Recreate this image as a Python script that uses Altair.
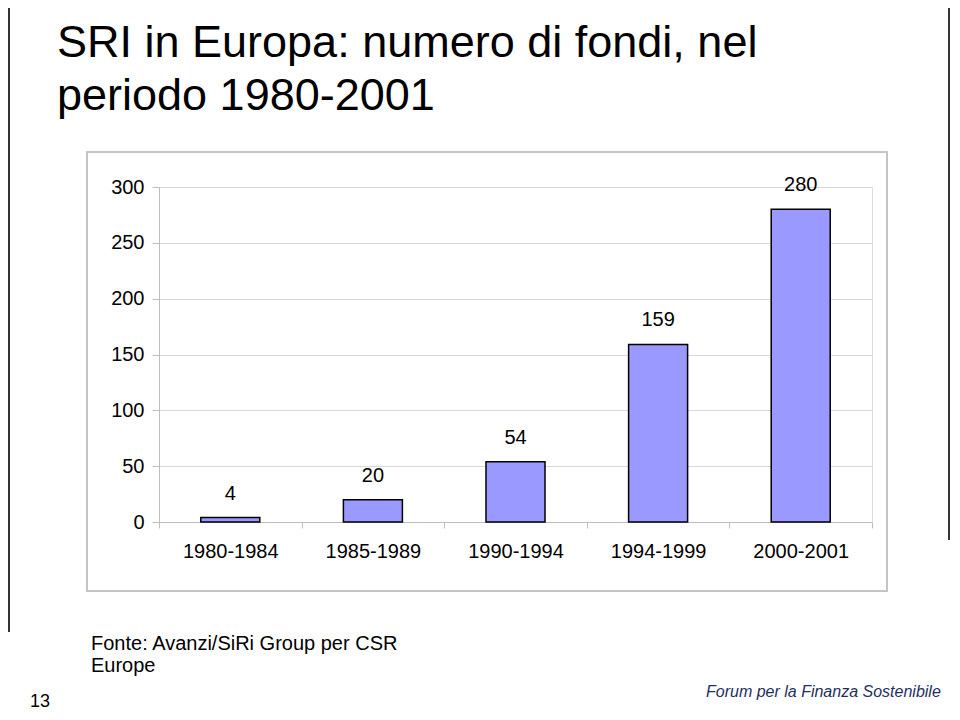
import altair as alt
import pandas as pd

# ---- data ----
periods = ["1980-1984", "1985-1989", "1990-1994", "1994-1999", "2000-2001"]
funds = [4, 20, 54, 159, 280]
y_ticks = [0, 50, 100, 150, 200, 250, 300]

title_lines = ["SRI in Europa: numero di fondi, nel", "periodo 1980-2001"]
source_lines = ["Fonte: Avanzi/SiRi Group per CSR", "Europe"]
page_number = ["13"]
logo_text = ["Forum per la Finanza Sostenibile"]

df = pd.DataFrame({"period": periods, "funds": funds})

FONT = "Liberation Sans"
W, H = 713, 335

x_enc = alt.X(
    "period:N",
    sort=periods,
    scale=alt.Scale(paddingInner=0, paddingOuter=0),
    axis=alt.Axis(
        title=None,
        labelAngle=0,
        labelFontSize=20,
        labelFont=FONT,
        labelColor="black",
        labelPadding=13,
        tickBand="extent",
        tickSize=6,
        tickColor="#bdbdbd",
        domainColor="#bdbdbd",
        grid=False,
    ),
)
y_enc = alt.Y(
    "funds:Q",
    scale=alt.Scale(domain=[0, 300], nice=False),
    axis=alt.Axis(
        title=None,
        values=y_ticks,
        labelFontSize=20,
        labelFont=FONT,
        labelColor="black",
        labelPadding=8,
        tickSize=7,
        tickColor="#bdbdbd",
        domainColor="#bdbdbd",
        gridColor="#d9d9d9",
        grid=True,
    ),
)

base = alt.Chart(df)

frame = base.mark_rect(fillOpacity=0, stroke="#c4c4c4", strokeWidth=1.2).encode(
    x=alt.value(-72), x2=alt.value(728), y=alt.value(-35), y2=alt.value(404)
)

bars = base.mark_bar(
    size=59, color="#9999ff", stroke="black", strokeWidth=1.5
).encode(x=x_enc, y=y_enc)

labels = base.mark_text(
    fontSize=20, font=FONT, color="black", baseline="alphabetic", dy=-18
).encode(x=alt.X("period:N", sort=periods), y="funds:Q", text="funds:Q")


def text_layer(lines, x, y0, step, size, **kw):
    return alt.layer(
        *[
            alt.Chart(pd.DataFrame({"t": [ln]})).mark_text(
                align="left", baseline="alphabetic", font=FONT, fontSize=size, **kw
            ).encode(text="t:N", x=alt.value(x), y=alt.value(y0 + k * step))
            for k, ln in enumerate(lines)
        ]
    )


title = text_layer(title_lines, -102, -130, 53, 45, color="black")
source = text_layer(source_lines, -68, 463, 22, 20, color="black")
pnum = text_layer(page_number, -129, 520, 0, 18, color="black")
logo = text_layer(logo_text, 547, 510, 0, 16, color="#23305e", fontStyle="italic")

left_line = base.mark_rule(color="#333333", strokeWidth=1.2).encode(
    x=alt.value(-150), y=alt.value(-179), y2=alt.value(445)
)
right_line = base.mark_rule(color="#333333", strokeWidth=1.2).encode(
    x=alt.value(790), y=alt.value(-179), y2=alt.value(353)
)

chart = (
    alt.layer(left_line, right_line, frame, bars, labels, title, source, pnum, logo)
    .properties(
        width=W,
        height=H,
        autosize=alt.AutoSizeParams(type="none"),
        padding={"left": 151, "top": 179, "right": 80, "bottom": 190},
    )
    .configure_view(stroke=None)
    .configure(background="white")
)

chart.save("out.html", embed_options={"renderer": "svg", "actions": False})
